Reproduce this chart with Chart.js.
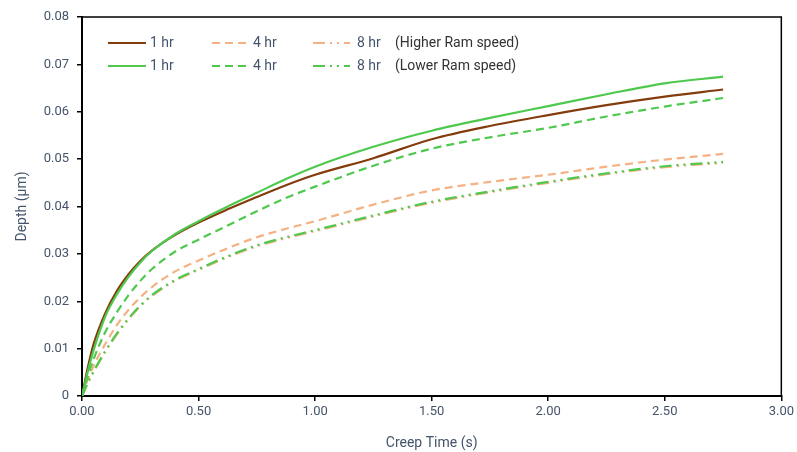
<!DOCTYPE html>
<html>
<head>
<meta charset="utf-8">
<script src="https://cdn.jsdelivr.net/npm/chart.js@4.4.1/dist/chart.umd.min.js"></script>
<style>
  html, body { margin: 0; padding: 0; background: #fff; }
  #wrap { width: 797px; height: 452px; position: relative; }
</style>
</head>
<body>
<div id="wrap"><canvas id="chartCanvas"></canvas></div>
<script>
// creep time (s) sample points
const creepTime = [0, 0.025, 0.05, 0.1, 0.15, 0.2, 0.25, 0.3, 0.4, 0.5, 0.625, 0.75, 0.875, 1.0, 1.25, 1.5, 1.75, 2.0, 2.25, 2.5, 2.75];

// depth (um) - higher ram speed
const highRam1hr = [0, 0.0060, 0.0110, 0.0175, 0.0222, 0.0257, 0.0285, 0.0307, 0.0340, 0.0366, 0.0394, 0.0420, 0.0445, 0.0467, 0.0502, 0.0542, 0.0570, 0.0593, 0.0614, 0.0632, 0.0647];
const highRam4hr = [0, 0.0035, 0.0064, 0.0110, 0.0150, 0.0182, 0.0208, 0.0230, 0.0263, 0.0286, 0.0312, 0.0335, 0.0353, 0.0369, 0.0404, 0.0434, 0.0452, 0.0467, 0.0484, 0.0499, 0.0511];
const highRam8hr = [0, 0.0027, 0.0051, 0.0093, 0.0130, 0.0162, 0.0189, 0.0211, 0.0243, 0.0266, 0.0293, 0.0316, 0.0333, 0.0348, 0.0379, 0.0408, 0.0430, 0.0450, 0.0468, 0.0483, 0.0492];

// depth (um) - lower ram speed
const lowRam1hr = [0, 0.0052, 0.0097, 0.0168, 0.0215, 0.0252, 0.0282, 0.0306, 0.0342, 0.0369, 0.0400, 0.0429, 0.0458, 0.0484, 0.0526, 0.0560, 0.0587, 0.0612, 0.0637, 0.0660, 0.0674];
const lowRam4hr = [0, 0.0042, 0.0078, 0.0135, 0.0177, 0.0213, 0.0243, 0.0268, 0.0305, 0.0330, 0.0360, 0.0390, 0.0418, 0.0442, 0.0486, 0.0522, 0.0546, 0.0566, 0.0590, 0.0611, 0.0629];
const lowRam8hr = [0, 0.0028, 0.0052, 0.0095, 0.0132, 0.0164, 0.0191, 0.0213, 0.0245, 0.0268, 0.0295, 0.0318, 0.0335, 0.0350, 0.0381, 0.0410, 0.0432, 0.0452, 0.0470, 0.0485, 0.0494];

const seriesLabels = ["1 hr", "4 hr", "8 hr"];
const groupLabels = ["(Higher Ram speed)", "(Lower Ram speed)"];

const BROWN = '#843c0c';
const PEACH = '#f4b183';
const GREEN = '#4ec94e';
const DASH = [8, 5];
const DASHDOT = [12, 5, 2, 5, 2, 5];
const FONT = 'Roboto, "Liberation Sans", sans-serif';

function pts(ys){
    return creepTime.map((t, i) => ({x: t, y: ys[i]}));
}

function series(label, ys, color, dash, order){
    return {
        label: label,
        data: pts(ys),
        borderColor: color,
        backgroundColor: color,
        borderWidth: 2.2,
        borderDash: dash,
        pointRadius: 0,
        cubicInterpolationMode: 'monotone',
        order: order,
        fill: false
    };
}

const data = {
    datasets: [
        series("1 hr", highRam1hr, BROWN, [], 2),
        series("4 hr", highRam4hr, PEACH, DASH, 2),
        series("8 hr", highRam8hr, PEACH, DASHDOT, 2),
        series("1 hr", lowRam1hr, GREEN, [], 1),
        series("4 hr", lowRam4hr, GREEN, DASH, 1),
        series("8 hr", lowRam8hr, GREEN, DASHDOT, 1)
    ]
};

// box round the plot plus the two-row legend in the top left corner
const frameAndKey = {
    id: 'frameAndKey',
    afterDraw(chart){
        const ctx = chart.ctx;
        const a = chart.chartArea;
        ctx.save();
        ctx.strokeStyle = '#000';
        ctx.lineWidth = 1.5;
        ctx.beginPath();
        ctx.moveTo(a.left, a.top);
        ctx.lineTo(a.right, a.top);
        ctx.lineTo(a.right, a.bottom);
        ctx.stroke();

        const rows = [
            {y: 43, colors: [BROWN, PEACH, PEACH], note: groupLabels[0]},
            {y: 66, colors: [GREEN, GREEN, GREEN], note: groupLabels[1]}
        ];
        const dashes = [[], DASH, DASHDOT];
        const lineX = [[108, 146], [212, 249], [313, 350]];
        const textX = [150, 253, 357];
        ctx.font = '14px ' + FONT;
        ctx.textBaseline = 'middle';
        rows.forEach(r => {
            for (let i = 0; i < 3; i++){
                ctx.strokeStyle = r.colors[i];
                ctx.lineWidth = 2.2;
                ctx.setLineDash(dashes[i]);
                ctx.beginPath();
                ctx.moveTo(lineX[i][0], r.y);
                ctx.lineTo(lineX[i][1], r.y);
                ctx.stroke();
                ctx.fillStyle = '#44546a';
                ctx.fillText(seriesLabels[i], textX[i], r.y);
            }
            ctx.fillStyle = '#333';
            ctx.fillText(r.note, 395, r.y);
        });
        ctx.restore();
    }
};

const config = {
    type: 'line',
    data: data,
    options: {
        responsive: true,
        maintainAspectRatio: false,
        animation: false,
        layout: { padding: { top: 17, right: 15, left: 0, bottom: 0 } },
        plugins: {
            legend: { display: false },
            tooltip: { enabled: false }
        },
        scales: {
            x: {
                type: 'linear',
                min: 0,
                max: 3,
                afterFit: s => { s.height = 56; },
                ticks: {
                    stepSize: 0.5,
                    padding: 3,
                    color: '#44546a',
                    font: { family: FONT, size: 13 },
                    callback: v => v.toFixed(2)
                },
                grid: { drawOnChartArea: false, drawTicks: true, tickLength: 5, color: '#000', lineWidth: 1.5 },
                border: { display: true, color: '#000', width: 2 },
                title: {
                    display: true,
                    text: 'Creep Time (s)',
                    color: '#44546a',
                    font: { family: FONT, size: 14 },
                    padding: { top: 6, bottom: 0 }
                }
            },
            y: {
                min: 0,
                max: 0.08,
                afterFit: s => { s.width = 82; },
                ticks: {
                    stepSize: 0.01,
                    padding: 8,
                    color: '#44546a',
                    font: { family: FONT, size: 13 },
                    callback: v => v === 0 ? '0' : v.toFixed(2)
                },
                grid: { drawOnChartArea: false, drawTicks: true, tickLength: 5, color: '#000', lineWidth: 1.5 },
                border: { display: true, color: '#000', width: 2 },
                title: {
                    display: true,
                    text: 'Depth (µm)',
                    color: '#44546a',
                    font: { family: FONT, size: 14 },
                    padding: { top: 14, bottom: 0 }
                }
            }
        }
    },
    plugins: [frameAndKey]
};

let myChart = new Chart(document.getElementById('chartCanvas'), config);
</script>
</body>
</html>
